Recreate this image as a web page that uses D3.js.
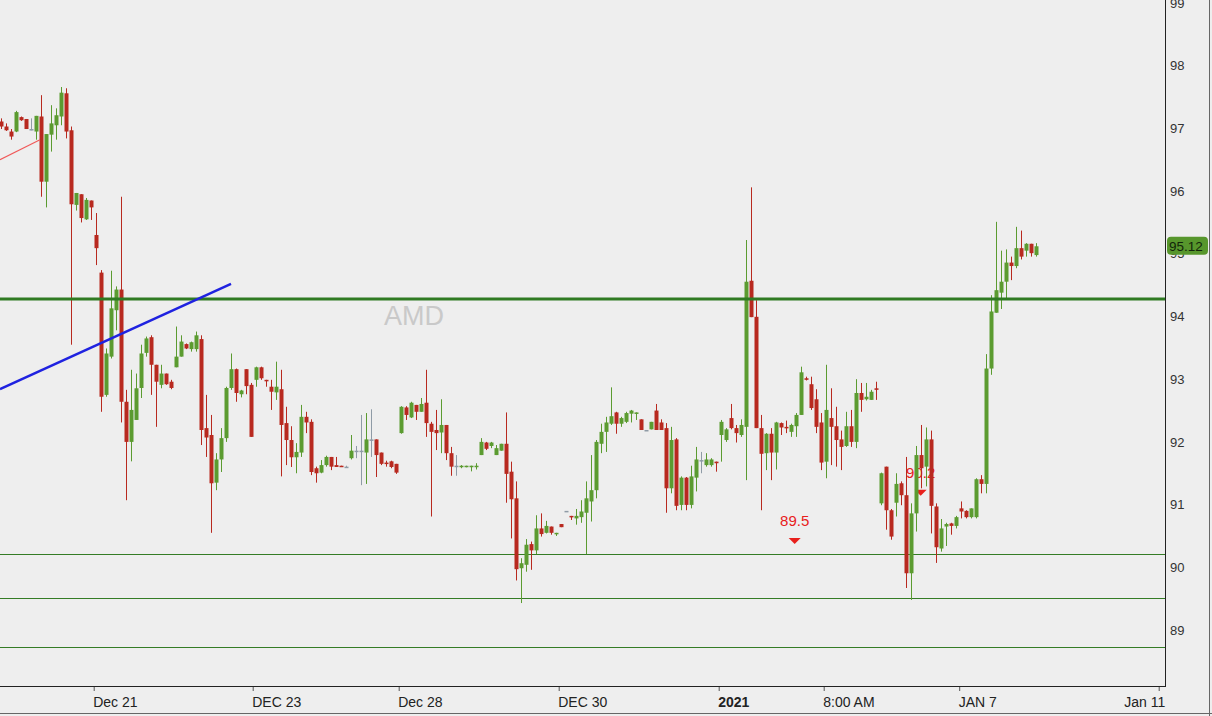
<!DOCTYPE html>
<html>
<head>
<meta charset="utf-8">
<script src="https://cdn.jsdelivr.net/npm/d3@7"></script>
<style>
  html, body { margin: 0; padding: 0; background: #eeeeee; }
  svg { display: block; font-family: "Liberation Sans", Arial, sans-serif; }
</style>
</head>
<body>
<script>
// hourly bars
var open = [97.11,97.03,96.95,96.95,97.18,97.15,96.99,96.95,97.19,96.15,96.90,97.05,97.19,97.56,96.97,95.78,95.95,95.55,95.85,95.30,
  94.70,92.75,93.36,94.10,94.43,92.64,92.00,92.35,92.86,93.42,93.67,93.23,92.91,93.09,92.96,93.19,93.36,93.56,93.48,93.48,
  93.64,92.22,92.11,91.35,91.72,92.06,92.86,93.16,92.76,93.16,92.91,92.99,93.19,92.99,92.88,92.79,92.84,92.30,92.03,91.755,
  91.83,92.40,92.32,91.58,91.51,91.63,91.76,91.63,91.62,91.605,91.74,91.86,91.86,91.83,92.04,92.04,91.83,91.67,91.69,91.65,
  92.14,92.55,92.39,92.59,92.48,92.625,92.29,92.19,92.15,92.27,91.82,91.62,91.605,91.605,91.605,91.61,91.79,91.99,91.935,91.79,
  91.86,91.97,91.525,91.10,89.985,90.04,90.37,90.27,90.62,90.55,90.65,90.54,90.69,90.90,90.82,90.78,90.80,90.87,91.05,91.23,
  91.97,92.16,92.29,92.47,92.29,92.32,92.45,92.45,92.36,92.19,92.20,92.50,92.31,92.22,91.26,92.04,90.995,91.43,90.995,91.43,
  91.71,91.63,91.63,91.685,92.11,92.03,92.38,92.22,92.11,92.24,94.57,93.995,92.22,91.82,92.13,91.83,92.30,92.24,92.16,92.25,
  92.43,93.015,92.92,92.68,92.31,91.685,92.38,92.25,92.04,91.935,92.25,92.00,92.78,92.68,92.67,92.855,91.02,91.605,90.91,91.03,
  91.34,91.15,89.905,90.86,91.79,91.605,92.04,90.97,90.30,90.65,90.70,90.66,90.94,90.90,90.80,90.80,91.405,91.33,93.17,94.06,
  94.38,94.555,94.86,94.805,95.09,95.05,95.16,94.98];
var high = [97.16,97.08,96.99,97.28,97.19,97.15,97.16,97.20,97.53,96.91,97.37,97.32,97.66,97.64,97.03,95.97,95.95,95.89,95.85,95.65,
  94.74,93.49,94.73,94.48,95.91,92.83,93.15,93.09,93.55,93.68,93.70,93.23,93.23,93.09,92.99,93.84,93.70,93.57,93.60,93.76,
  93.70,92.75,92.43,91.82,92.22,92.88,93.41,93.17,92.83,93.16,92.94,93.20,93.20,92.99,92.99,93.28,93.15,92.56,92.25,91.98,
  92.59,92.48,92.36,91.605,91.71,91.78,91.76,91.76,91.62,91.62,92.11,91.935,92.43,92.46,92.52,92.04,91.83,91.70,91.70,91.65,
  92.57,92.57,92.64,92.59,92.70,93.15,92.32,92.51,92.68,92.27,91.92,91.79,91.63,91.62,91.62,91.66,92.06,92.00,92.00,91.95,
  91.97,92.47,91.685,91.37,90.145,90.45,90.41,90.83,90.86,90.74,90.65,90.55,90.69,90.90,90.82,90.93,91.07,91.37,91.79,92.03,
  92.29,92.40,92.87,92.48,92.40,92.48,92.51,92.47,92.36,92.19,92.32,92.605,92.36,92.30,92.24,92.06,91.45,91.44,91.62,91.92,
  91.84,91.82,91.74,91.685,92.35,92.22,92.605,92.27,92.36,95.22,96.06,94.26,92.43,92.14,92.22,92.32,92.31,92.34,92.29,92.46,
  93.20,93.04,93.04,92.84,92.46,93.23,92.855,92.56,92.18,92.48,92.51,93.00,92.94,92.94,92.83,92.96,91.51,91.605,90.93,91.50,
  91.37,91.76,91.02,91.935,92.27,92.23,92.18,91.02,90.77,90.71,90.71,90.82,91.05,90.91,90.94,91.42,91.47,93.40,94.34,95.51,
  95.05,95.07,94.955,95.43,95.37,95.17,95.16,95.17];
var low = [96.99,96.96,96.82,96.94,97.12,96.99,96.97,96.82,95.91,95.74,96.63,96.82,97.05,96.84,93.55,95.69,95.50,95.54,95.54,94.82,
  92.48,92.72,93.33,93.78,92.31,91.07,91.69,92.35,92.70,93.36,92.75,92.24,92.855,92.91,92.84,93.19,93.36,93.48,93.44,93.44,
  91.95,91.76,90.55,91.23,91.52,92.00,92.83,92.64,92.71,92.76,92.08,92.88,92.99,92.88,92.51,92.67,91.45,91.63,91.60,91.50,
  91.76,92.14,91.47,91.35,91.50,91.605,91.55,91.60,91.60,91.60,91.72,91.74,91.31,91.33,91.76,91.44,91.63,91.605,91.58,91.49,
  92.13,92.35,92.38,92.35,92.48,92.08,90.81,91.87,91.82,91.71,91.46,91.46,91.58,91.595,91.53,91.56,91.79,91.87,91.90,91.79,
  91.86,91.03,90.46,89.79,89.43,89.93,89.96,90.21,90.49,90.54,90.52,90.50,90.64,90.90,90.755,90.68,90.71,90.21,90.73,91.10,
  91.82,91.84,92.27,92.13,92.24,92.30,92.31,92.35,92.19,92.19,92.20,92.19,92.19,90.87,91.18,90.91,90.91,90.91,90.94,91.21,
  91.50,91.605,91.605,91.525,91.685,92.00,92.20,91.99,92.08,91.39,93.99,92.22,90.91,91.55,91.39,91.56,92.11,92.14,92.08,92.08,
  92.43,92.98,92.51,92.14,91.55,91.42,91.63,91.605,91.55,91.92,91.92,91.90,92.48,92.66,92.67,92.67,90.99,90.60,90.44,90.81,
  90.99,89.67,89.48,90.57,91.26,91.29,90.54,90.07,90.25,90.34,90.52,90.62,90.78,90.78,90.78,90.78,91.18,91.18,93.07,94.06,
  94.12,94.29,94.58,94.77,94.91,94.955,94.955,94.955];
var close = [97.03,96.97,96.87,97.26,97.13,96.99,96.99,97.20,96.15,96.91,97.08,97.21,97.57,96.95,95.79,95.97,95.57,95.86,95.74,95.09,
  92.72,93.41,94.13,94.43,92.64,92.00,92.51,92.855,93.41,93.65,93.23,92.96,93.09,92.92,92.86,93.36,93.60,93.49,93.59,93.70,
  92.19,92.07,91.34,91.72,92.06,92.86,93.16,92.78,92.82,92.89,92.08,93.19,93.015,92.97,92.80,92.88,92.27,92.03,91.755,91.84,
  92.40,92.31,91.52,91.50,91.63,91.76,91.605,91.60,91.60,91.605,91.86,91.86,91.86,92.04,92.04,91.79,91.65,91.65,91.60,91.51,
  92.56,92.43,92.625,92.48,92.605,92.30,92.16,92.14,92.27,91.82,91.605,91.62,91.62,91.62,91.62,91.62,92.00,91.89,91.99,91.90,
  91.97,91.49,91.085,89.97,90.065,90.36,90.27,90.62,90.53,90.66,90.55,90.55,90.64,90.90,90.80,90.82,90.89,91.10,91.23,92.00,
  92.16,92.31,92.41,92.29,92.38,92.46,92.50,92.47,92.19,92.19,92.32,92.19,92.19,91.26,92.03,90.98,91.43,90.995,91.45,91.72,
  91.71,91.72,91.72,91.66,92.32,92.20,92.22,92.14,92.27,94.555,93.99,92.22,91.81,92.13,91.83,92.31,92.23,92.23,92.27,92.43,
  93.11,92.99,92.54,92.24,91.67,92.51,92.24,92.03,91.92,92.25,92.00,92.78,92.67,92.72,92.80,92.83,91.50,90.91,90.49,91.33,
  91.15,89.905,90.86,91.79,91.58,92.04,90.98,90.32,90.62,90.69,90.66,90.80,90.89,90.80,90.94,91.405,91.33,93.17,94.08,94.42,
  94.555,94.86,94.805,95.09,94.955,95.16,95.01,95.12];

// y axis ticks
var priceTicks = [89, 90, 91, 92, 93, 94, 95, 96, 97, 98, 99];
// x axis ticks (bar index) and labels
var timeTickIdx = [18.6, 50.4, 79.6, 111.6, 143.6, 164.6, 191.7, 231.6];
var timeTickLabels = ["Dec 21", "DEC 23", "Dec 28", "DEC 30", "2021", "8:00 AM", "JAN 7", "Jan 11"];

// drawn levels and trend lines
var levelMain = 94.28;
var levelsThin = [90.21, 89.51, 88.73];
var blueTrend = [[-0.14, 92.84], [46.06, 94.52]];
var redTrend = [[-0.14, 96.50], [7.86, 96.82]];

// signal markers
var markerIdx = [158.8, 184.0];
var markerPrice = [90.42, 91.19];
var markerLabels = ["89.5", "90.2"];

var lastPrice = 95.12;

var width = 1212, height = 716;
var plotW = 1165, plotH = 686;

var svg = d3.select("body").append("svg")
    .attr("width", width)
    .attr("height", height);

svg.append("rect").attr("width", width).attr("height", height).attr("fill", "#eeeeee");

var x = d3.scaleLinear().domain([0, 233]).range([0.7, 1165.7]);
var y = d3.scaleLinear().domain([89, 99]).range([630, 3]);

svg.append("defs").append("clipPath").attr("id", "plot")
  .append("rect").attr("width", plotW).attr("height", plotH);

var g = svg.append("g").attr("clip-path", "url(#plot)");

// watermark
g.append("text")
    .attr("x", 414).attr("y", 325)
    .attr("text-anchor", "middle")
    .attr("fill", "#c9c9c9")
    .style("font-size", "27px")
    .text("AMD");

// thin support lines
g.selectAll(".lvl")
  .data(levelsThin)
  .join("line")
    .attr("x1", 0).attr("x2", plotW)
    .attr("y1", d => Math.round(y(d)) + 0.5).attr("y2", d => Math.round(y(d)) + 0.5)
    .attr("stroke", "#347c25").attr("stroke-width", 1.2);

// markers (drawn under the candles)
var mk = g.selectAll(".mk")
  .data(markerIdx)
  .join("g")
    .attr("transform", (d, i) => `translate(${x(d)},${y(markerPrice[i])})`);
mk.append("path")
    .attr("d", "M-6,-3L6,-3L0,3Z")
    .attr("fill", "#e8201c");
mk.append("text")
    .attr("y", -15)
    .attr("text-anchor", "middle")
    .attr("fill", "#e8201c")
    .style("font-size", "15px")
    .text((d, i) => markerLabels[i]);

// candles
var green = "#5b9b30", red = "#b8291f", flat = "#8f9ba6";
function col(i) {
  if (close[i] > open[i]) return green;
  if (close[i] < open[i]) return red;
  return flat;
}

var candle = g.selectAll(".candle")
  .data(d3.range(open.length))
  .join("g")
    .attr("class", "candle");

candle.append("line")
    .attr("x1", i => Math.round(x(i)) + 0.5)
    .attr("x2", i => Math.round(x(i)) + 0.5)
    .attr("y1", i => y(high[i]))
    .attr("y2", i => y(low[i]))
    .attr("stroke", col)
    .attr("stroke-width", 1);

candle.append("rect")
    .attr("x", i => Math.round(x(i)) - 1.5)
    .attr("width", 4)
    .attr("y", i => y(Math.max(open[i], close[i])))
    .attr("height", i => Math.max(1.5, Math.abs(y(open[i]) - y(close[i]))))
    .attr("fill", col);

// main resistance
g.append("line")
    .attr("x1", 0).attr("x2", plotW)
    .attr("y1", y(levelMain)).attr("y2", y(levelMain))
    .attr("stroke", "#2f7a22").attr("stroke-width", 3);

// trend lines
var line = d3.line().x(d => x(d[0])).y(d => y(d[1]));
g.append("path").attr("d", line(blueTrend))
    .attr("stroke", "#1f22e0").attr("stroke-width", 2.5).attr("fill", "none");
g.append("path").attr("d", line(redTrend))
    .attr("stroke", "#f05a5a").attr("stroke-width", 1.2).attr("fill", "none");

// right axis
var yAxis = svg.append("g")
    .attr("transform", `translate(${plotW},0)`)
    .call(d3.axisRight(y).tickValues(priceTicks).tickSize(0).tickPadding(5).tickFormat(d3.format("d")));
yAxis.select(".domain").remove();
yAxis.selectAll("text").attr("fill", "#333").style("font-size", "13px").style("font-family", "'Liberation Sans', Arial, sans-serif");

svg.append("line")
    .attr("x1", plotW + 0.5).attr("x2", plotW + 0.5)
    .attr("y1", 0).attr("y2", plotH + 0.5)
    .attr("stroke", "#222").attr("stroke-width", 1);

// last price tag
var tag = svg.append("g").attr("transform", `translate(${plotW + 2},${y(lastPrice)})`);
tag.append("rect")
    .attr("x", 0).attr("y", -9.5).attr("width", 41).attr("height", 18).attr("rx", 4)
    .attr("fill", "#57962c");
tag.append("text")
    .attr("x", 2).attr("dy", "0.35em")
    .attr("fill", "#12260a")
    .style("font-size", "13.5px")
    .text(d3.format(".2f")(lastPrice));

// bottom axis
var xAxis = svg.append("g")
    .attr("transform", `translate(0,${plotH})`)
    .call(d3.axisBottom(x).tickValues(timeTickIdx).tickSize(5).tickPadding(6)
      .tickFormat((d, i) => timeTickLabels[i]));
xAxis.select(".domain").remove();
xAxis.selectAll("line").attr("stroke", "#555");
xAxis.selectAll("text")
    .attr("fill", "#222")
    .attr("text-anchor", (d, i) => i === timeTickLabels.length - 1 ? "end" : "start")
    .attr("x", (d, i) => i === timeTickLabels.length - 1 ? 6 : -1)
    .style("font-size", "14px")
    .style("font-family", "'Liberation Sans', Arial, sans-serif")
    .style("font-weight", (d, i) => timeTickLabels[i] === "2021" ? "bold" : null);

svg.append("line")
    .attr("x1", 0).attr("x2", plotW + 1)
    .attr("y1", plotH + 0.5).attr("y2", plotH + 0.5)
    .attr("stroke", "#222");

// outer frame (right and bottom edges visible)
svg.append("line").attr("x1", 0).attr("x2", width).attr("y1", 713.5).attr("y2", 713.5).attr("stroke", "#666");
svg.append("line").attr("x1", 1209.5).attr("x2", 1209.5).attr("y1", 0).attr("y2", height).attr("stroke", "#666");
</script>
</body>
</html>
